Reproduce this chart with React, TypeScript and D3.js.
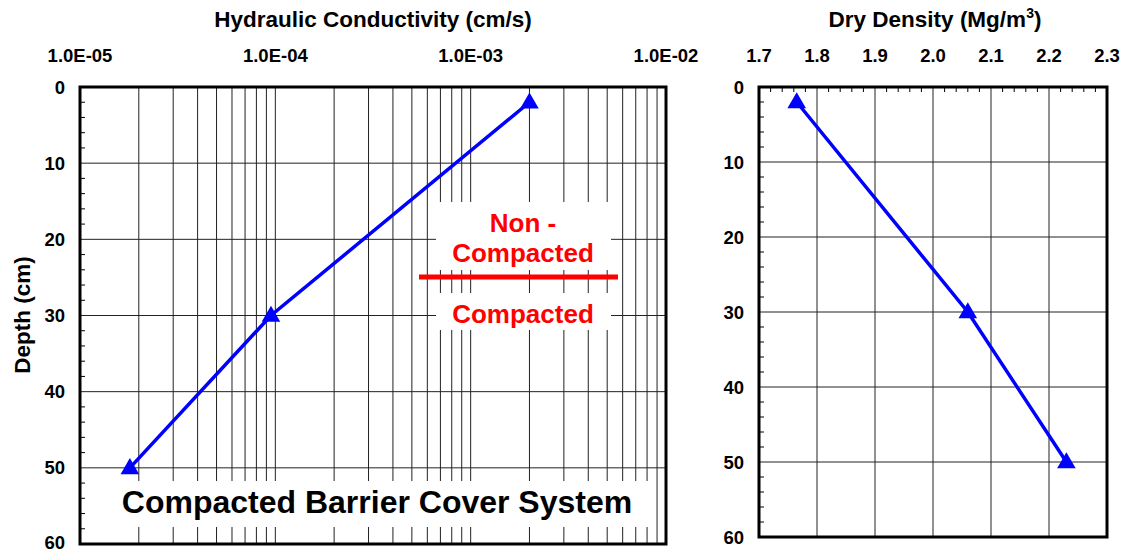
import React, { useRef, useEffect } from 'react';
import * as d3 from 'd3';

// sample depths (cm) shared by both panels
const depths = [2, 30, 50];
const conductivity = [2.0e-3, 9.5e-5, 1.8e-5];
const density = [1.765, 2.06, 2.23];

const depthTicks = [0, 10, 20, 30, 40, 50, 60];
const kTicks = [1e-5, 1e-4, 1e-3, 1e-2];
const kTickLabels = ['1.0E-05', '1.0E-04', '1.0E-03', '1.0E-02'];
const rhoTicks = [1.7, 1.8, 1.9, 2.0, 2.1, 2.2, 2.3];

const FONT = 'Liberation Sans, Arial, Helvetica, sans-serif';

const App: React.FC = () => {
  const ref = useRef<SVGSVGElement | null>(null);

  useEffect(() => {
    if (!ref.current) return;
    const svg = d3.select(ref.current);
    svg.selectAll('*').remove();

    const xL = d3.scaleLog().domain([1e-5, 1e-2]).range([80, 666]);
    const yL = d3.scaleLinear().domain([0, 60]).range([87, 544]);
    const xR = d3.scaleLinear().domain([1.7, 2.3]).range([759, 1107]);
    const yR = d3.scaleLinear().domain([0, 60]).range([87, 537]);

    const gridColor = '#222';

    // ---------- left panel: hydraulic conductivity ----------
    const gl = svg.append('g');
    const kGrid = xL.ticks().filter((v) => v > 1e-5 * 1.001 && v < 1e-2 * 0.999);
    gl.selectAll('line.vg')
      .data(kGrid)
      .join('line')
      .attr('x1', (d) => xL(d))
      .attr('x2', (d) => xL(d))
      .attr('y1', yL(0))
      .attr('y2', yL(60))
      .attr('stroke', gridColor)
      .attr('stroke-width', 1);
    gl.selectAll('line.hg')
      .data(depthTicks.slice(1, -1))
      .join('line')
      .attr('x1', xL.range()[0])
      .attr('x2', xL.range()[1])
      .attr('y1', (d) => yL(d))
      .attr('y2', (d) => yL(d))
      .attr('stroke', gridColor)
      .attr('stroke-width', 1);
    gl.selectAll('line.mt')
      .data(d3.range(2, 60, 2).filter((d) => d % 10 !== 0))
      .join('line')
      .attr('x1', xL.range()[0])
      .attr('x2', xL.range()[0] + 5)
      .attr('y1', (d) => yL(d))
      .attr('y2', (d) => yL(d))
      .attr('stroke', '#000')
      .attr('stroke-width', 1);

    // white text boxes over the grid
    const boxes = [
      [436, 202, 611, 270],
      [436, 293, 611, 330],
      [108, 481, 648, 527],
    ];
    gl.selectAll('rect.box')
      .data(boxes)
      .join('rect')
      .attr('x', (d) => d[0])
      .attr('y', (d) => d[1])
      .attr('width', (d) => d[2] - d[0])
      .attr('height', (d) => d[3] - d[1])
      .attr('fill', '#fff');

    const redText = gl
      .append('g')
      .attr('fill', '#ff0000')
      .attr('font-family', FONT)
      .attr('font-weight', 'bold')
      .attr('font-size', 26)
      .attr('text-anchor', 'middle');
    redText.append('text').attr('x', 523).attr('y', 232).text('Non -');
    redText.append('text').attr('x', 523).attr('y', 262).text('Compacted');
    redText.append('text').attr('x', 523).attr('y', 323).text('Compacted');
    gl.append('line')
      .attr('x1', 419)
      .attr('x2', 618)
      .attr('y1', 277)
      .attr('y2', 277)
      .attr('stroke', '#ff0000')
      .attr('stroke-width', 5);

    gl.append('text')
      .attr('x', 377)
      .attr('y', 513)
      .attr('text-anchor', 'middle')
      .attr('font-family', FONT)
      .attr('font-weight', 'bold')
      .attr('font-size', 32)
      .attr('fill', '#000')
      .text('Compacted Barrier Cover System');

    const kPts = depths.map((d, i) => ({ x: conductivity[i], y: d }));
    gl.append('path')
      .datum(kPts)
      .attr('fill', 'none')
      .attr('stroke', '#0000ff')
      .attr('stroke-width', 3.5)
      .attr(
        'd',
        d3
          .line<{ x: number; y: number }>()
          .x((d) => xL(d.x))
          .y((d) => yL(d.y))
      );
    gl.selectAll('path.mk')
      .data(kPts)
      .join('path')
      .attr('transform', (d) => `translate(${xL(d.x)},${yL(d.y) + 1})`)
      .attr('d', d3.symbol(d3.symbolTriangle, 150)())
      .attr('fill', '#0000ff');

    gl.append('rect')
      .attr('x', xL.range()[0])
      .attr('y', yL(0))
      .attr('width', xL.range()[1] - xL.range()[0])
      .attr('height', yL(60) - yL(0))
      .attr('fill', 'none')
      .attr('stroke', '#000')
      .attr('stroke-width', 3);

    // axis labels
    const lab = (g: d3.Selection<SVGGElement, unknown, null, undefined>, size: number) =>
      g
        .attr('font-family', FONT)
        .attr('font-weight', 'bold')
        .attr('font-size', size)
        .attr('fill', '#000');

    const kLab = lab(gl.append('g'), 18.5).attr('text-anchor', 'middle');
    kLab.selectAll('text')
      .data(kTicks)
      .join('text')
      .attr('x', (d) => xL(d))
      .attr('y', 62)
      .text((d, i) => kTickLabels[i]);
    const dLab = lab(gl.append('g'), 18.5).attr('text-anchor', 'end');
    dLab.selectAll('text')
      .data(depthTicks)
      .join('text')
      .attr('x', 65)
      .attr('y', (d) => Math.min(yL(d) + 6.5, 549))
      .text((d) => d);
    lab(gl.append('g'), 22.5)
      .append('text')
      .attr('x', 373)
      .attr('y', 27)
      .attr('text-anchor', 'middle')
      .text('Hydraulic Conductivity (cm/s)');
    lab(gl.append('g'), 22.5)
      .append('text')
      .attr('transform', 'translate(30,315) rotate(-90)')
      .attr('text-anchor', 'middle')
      .text('Depth (cm)');

    // ---------- right panel: dry density ----------
    const gr = svg.append('g');
    gr.selectAll('line.vg')
      .data(rhoTicks.slice(1, -1))
      .join('line')
      .attr('x1', (d) => xR(d))
      .attr('x2', (d) => xR(d))
      .attr('y1', yR(0))
      .attr('y2', yR(60))
      .attr('stroke', gridColor)
      .attr('stroke-width', 1);
    gr.selectAll('line.hg')
      .data(depthTicks.slice(1, -1))
      .join('line')
      .attr('x1', xR.range()[0])
      .attr('x2', xR.range()[1])
      .attr('y1', (d) => yR(d))
      .attr('y2', (d) => yR(d))
      .attr('stroke', gridColor)
      .attr('stroke-width', 1);
    gr.selectAll('line.mt')
      .data(d3.range(2, 60, 2).filter((d) => d % 10 !== 0))
      .join('line')
      .attr('x1', xR.range()[0])
      .attr('x2', xR.range()[0] + 5)
      .attr('y1', (d) => yR(d))
      .attr('y2', (d) => yR(d))
      .attr('stroke', '#000');
    gr.selectAll('line.tt')
      .data(d3.range(1, 30).filter((i) => i % 5 !== 0).map((i) => 1.7 + i * 0.02))
      .join('line')
      .attr('x1', (d) => xR(d))
      .attr('x2', (d) => xR(d))
      .attr('y1', yR(0))
      .attr('y2', yR(0) + 5)
      .attr('stroke', '#000');

    const rPts = depths.map((d, i) => ({ x: density[i], y: d }));
    gr.append('path')
      .datum(rPts)
      .attr('fill', 'none')
      .attr('stroke', '#0000ff')
      .attr('stroke-width', 3.5)
      .attr(
        'd',
        d3
          .line<{ x: number; y: number }>()
          .x((d) => xR(d.x))
          .y((d) => yR(d.y))
      );
    gr.selectAll('path.mk')
      .data(rPts)
      .join('path')
      .attr('transform', (d) => `translate(${xR(d.x)},${yR(d.y) + 1})`)
      .attr('d', d3.symbol(d3.symbolTriangle, 150)())
      .attr('fill', '#0000ff');

    gr.append('rect')
      .attr('x', xR.range()[0])
      .attr('y', yR(0))
      .attr('width', xR.range()[1] - xR.range()[0])
      .attr('height', yR(60) - yR(0))
      .attr('fill', 'none')
      .attr('stroke', '#000')
      .attr('stroke-width', 3);

    const rLab = lab(gr.append('g'), 18.5).attr('text-anchor', 'middle');
    rLab.selectAll('text')
      .data(rhoTicks)
      .join('text')
      .attr('x', (d) => xR(d))
      .attr('y', 62)
      .text((d) => d.toFixed(1));
    const rdLab = lab(gr.append('g'), 18.5).attr('text-anchor', 'end');
    rdLab.selectAll('text')
      .data(depthTicks)
      .join('text')
      .attr('x', 744)
      .attr('y', (d) => yR(d) + 6.5)
      .text((d) => d);
    const title = lab(gr.append('g'), 22.5)
      .append('text')
      .attr('x', 935)
      .attr('y', 27)
      .attr('text-anchor', 'middle');
    title.append('tspan').text('Dry Density (Mg/m');
    title.append('tspan').attr('font-size', 14).attr('dy', -9).text('3');
    title.append('tspan').attr('dy', 9).text(')');
  }, []);

  return (
    <svg
      ref={ref}
      width={1125}
      height={552}
      style={{ position: 'absolute', left: 0, top: 0, background: '#fff' }}
    />
  );
};

export default App;
